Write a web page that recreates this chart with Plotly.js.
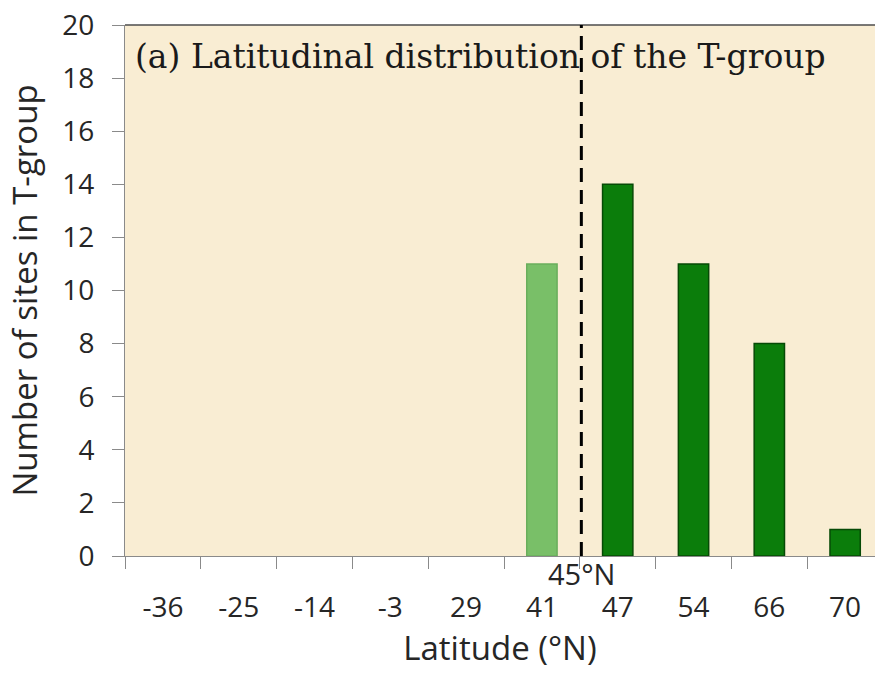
<!DOCTYPE html>
<html>
<head>
<meta charset="utf-8">
<script src="https://cdn.plot.ly/plotly-3.0.1.min.js"></script>
<style>
  html, body { margin: 0; padding: 0; background: #ffffff; overflow: hidden; }
  #chart { width: 875px; height: 682px; }
</style>
</head>
<body>
<div id="chart"></div>
<script>
// ---- data ----
const latitudes = ["-36", "-25", "-14", "-3", "29", "41", "47", "54", "66", "70"];
const siteCounts = [0, 0, 0, 0, 0, 11, 14, 11, 8, 1];
const belowThreshold = [true, true, true, true, true, true, false, false, false, false];
const thresholdLabel = "45°N";
const thresholdIndex = 5.52;   // category position of the 45°N boundary (between 41 and 47)
const yTicks = [0, 2, 4, 6, 8, 10, 12, 14, 16, 18, 20];

const lightGreen = "#79bf68";
const darkGreen = "#0b7d0b";

const barColors = belowThreshold.map(b => b ? lightGreen : darkGreen);
const edgeColors = belowThreshold.map(b => b ? "#6aae5c" : "#064a06");
const edgeWidths = siteCounts.map(v => v > 0 ? 1.5 : 0);

const sansFont = "'Open Sans', 'Noto Sans', sans-serif";

const trace = {
  type: "bar",
  x: latitudes,
  y: siteCounts,
  width: 0.4,
  marker: {
    color: barColors,
    line: { color: edgeColors, width: edgeWidths }
  },
  hoverinfo: "x+y"
};

const layout = {
  width: 875,
  height: 682,
  margin: { l: 125, r: 0, t: 25, b: 126, pad: 0 },
  paper_bgcolor: "#ffffff",
  plot_bgcolor: "#f9edd3",
  showlegend: false,
  xaxis: {
    type: "category",
    range: [-0.5, 9.394],
    tickson: "boundaries",
    ticks: "outside",
    ticklen: 12,
    tickwidth: 1,
    tickcolor: "#8a8a8a",
    showline: true,
    linecolor: "#8a8a8a",
    linewidth: 1,
    showgrid: false,
    zeroline: false,
    ticklabelstandoff: 26,
    tickfont: { family: sansFont, size: 28, color: "#262626" },
    title: {
      text: "Latitude (°N)",
      font: { family: sansFont, size: 33, color: "#262626" },
      standoff: 12
    },
    automargin: false,
    fixedrange: true
  },
  yaxis: {
    range: [0, 20],
    tickvals: yTicks,
    ticks: "outside",
    ticklen: 12,
    tickwidth: 1,
    tickcolor: "#8a8a8a",
    showline: true,
    linecolor: "#8a8a8a",
    linewidth: 1,
    showgrid: false,
    zeroline: false,
    ticklabelstandoff: 12,
    tickfont: { family: sansFont, size: 28, color: "#262626" },
    title: {
      text: "Number of sites in T-group",
      font: { family: sansFont, size: 33, color: "#262626" },
      standoff: 14
    },
    automargin: false,
    fixedrange: true
  },
  shapes: [
    {
      type: "line", xref: "paper", yref: "paper",
      x0: 0, x1: 1, y0: 1, y1: 1,
      line: { color: "#4d4d4d", width: 1.5 }
    },
    {
      type: "line", xref: "x", yref: "paper",
      x0: thresholdIndex, x1: thresholdIndex, y0: 0, y1: 1,
      line: { color: "#000000", width: 3, dash: "14px,8px" }
    }
  ],
  annotations: [
    {
      text: "(a) Latitudinal distribution of the T-group",
      xref: "paper", yref: "paper",
      x: 0.011, y: 0.94,
      xanchor: "left", yanchor: "middle",
      showarrow: false,
      font: { family: "'DejaVu Serif', serif", size: 33, color: "#1a1a1a" }
    },
    {
      text: thresholdLabel,
      xref: "x", yref: "paper",
      x: thresholdIndex, y: -0.033,
      xanchor: "center", yanchor: "middle",
      showarrow: false,
      font: { family: sansFont, size: 29, color: "#262626" }
    }
  ]
};

Plotly.newPlot("chart", [trace], layout, { displayModeBar: false, staticPlot: true });
</script>
</body>
</html>
